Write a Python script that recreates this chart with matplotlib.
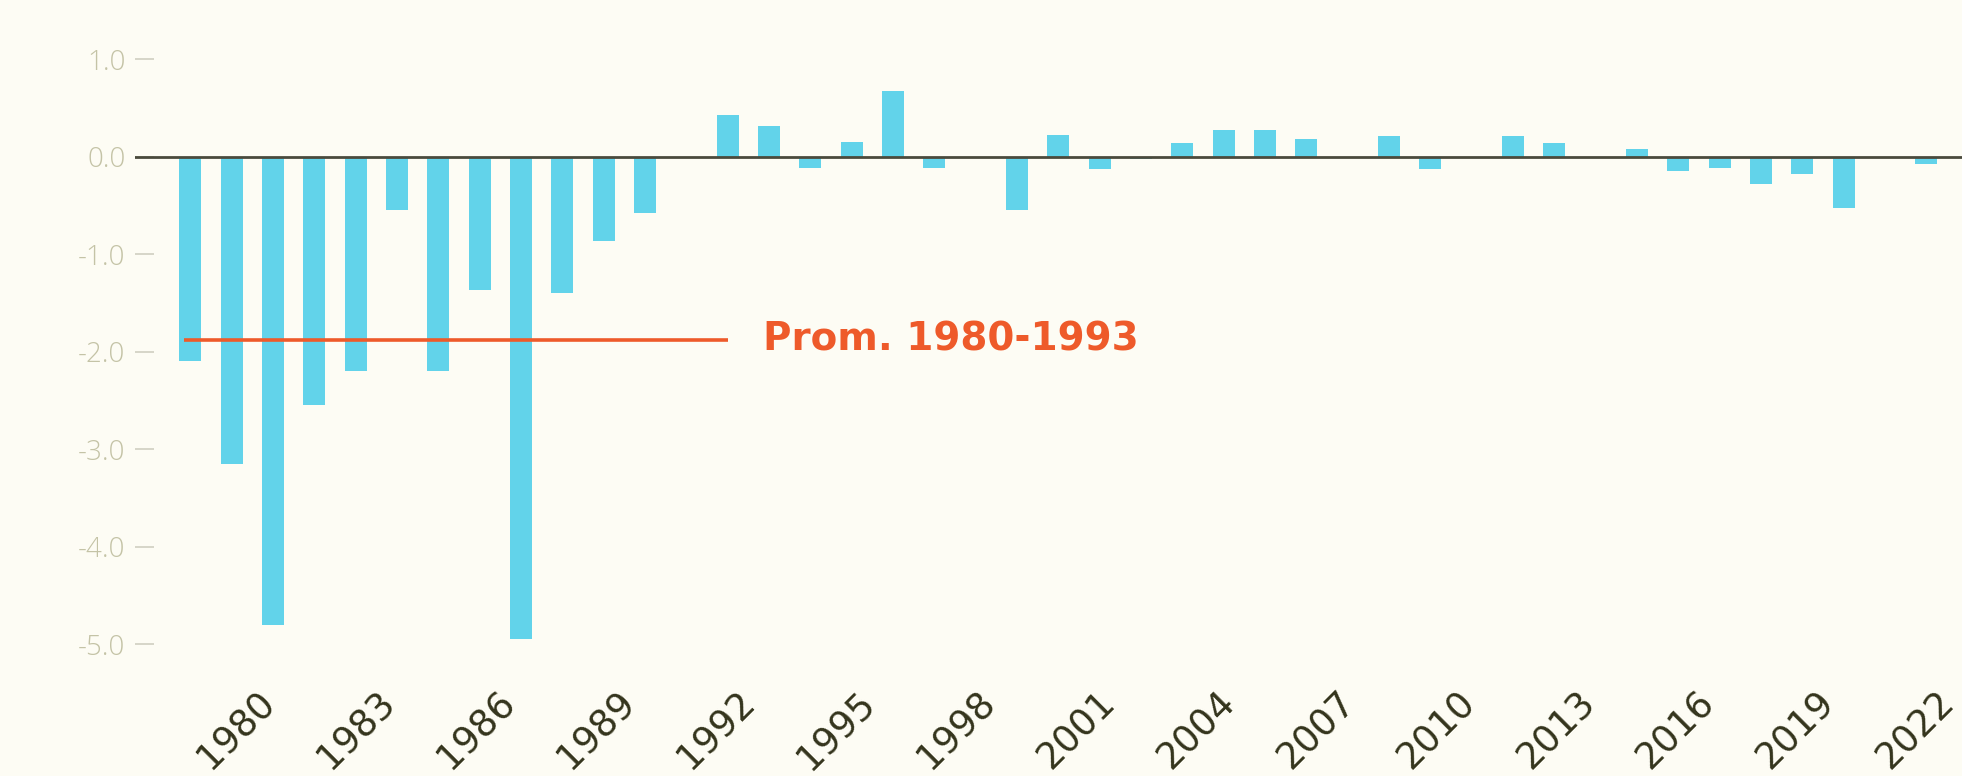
import numpy as np
import matplotlib
matplotlib.use("Agg")
import matplotlib.pyplot as plt

# yearly anomaly values
years = list(range(1980, 2023))
values = [-2.10, -3.15, -4.80, -2.55, -2.20, -0.55, -2.20, -1.37, -4.95, -1.40,
          -0.87, -0.58, 0.00, 0.43, 0.31, -0.12, 0.15, 0.67, -0.12, 0.00,
          -0.55, 0.22, -0.13, -0.03, 0.14, 0.27, 0.27, 0.18, 0.00, 0.21,
          -0.13, 0.00, 0.21, 0.14, 0.00, 0.08, -0.15, -0.12, -0.28, -0.18,
          -0.53, 0.00, -0.08]

avg_start, avg_end = 1980, 1993
avg_label = "Prom. 1980-1993"

tick_years = list(range(1980, 2023, 3))
tick_labels = [str(y) for y in tick_years]
ytick_vals = [1.0, 0.0, -1.0, -2.0, -3.0, -4.0, -5.0]
ytick_labels = ["1.0", "0.0", "-1.0", "-2.0", "-3.0", "-4.0", "-5.0"]

BG = "#fdfcf4"
BAR = "#62d3ea"
ORANGE = "#ee5a2a"

plt.rcParams["font.family"] = ["DejaVu Sans"]

fig = plt.figure(figsize=(19.62, 7.76), dpi=100, facecolor=BG)
ax = fig.add_axes([0.0688, 0.1324, 0.9312, 0.8292], facecolor=BG)

ax.bar(years, values, width=0.53, color=BAR, zorder=2)
ax.axhline(0, color="#4a4a3c", lw=2.0, zorder=3)

# average of the reference period
sel = [v for y, v in zip(years, values) if avg_start <= y <= avg_end]
avg = np.mean(sel)
ax.hlines(avg, avg_start - 0.15, avg_end, color=ORANGE, lw=2.6, zorder=4)
ax.text(avg_end + 0.85, avg, avg_label, color=ORANGE, fontsize=28,
        fontweight="bold", va="center", ha="left")

ax.set_xlim(1978.66, 2022.73)
ax.set_ylim(-5.3, 1.3)

# labels in the source graphic sit on their own, slightly compressed scale
tick_pos = [1982.23 + (y - 1980) * 0.9675 for y in tick_years]
ax.set_xticks(tick_pos)
ax.set_xticklabels(tick_labels, rotation=45, ha="right", fontsize=26.5,
                   color="#34341c")
ax.tick_params(axis="x", length=0, pad=8)

ax.set_yticks(ytick_vals)
ax.set_yticklabels(ytick_labels, fontsize=20, color="#c4c3a6",
                   family=["Open Sans", "DejaVu Sans"], fontweight="light")
ax.tick_params(axis="y", direction="in", length=14, width=1.4,
               color="#d6d5c8", pad=7)

for s in ax.spines.values():
    s.set_visible(False)

fig.savefig("out.png", dpi=100, facecolor=BG)
